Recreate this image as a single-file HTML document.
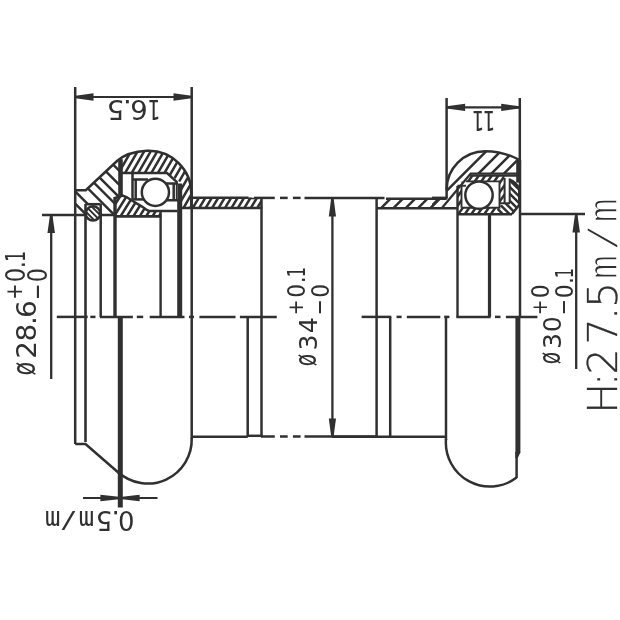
<!DOCTYPE html>
<html lang="en"><head><meta charset="utf-8"><title>Headset drawing</title>
<style>
html,body{margin:0;padding:0;background:#fff;}
body{width:620px;height:620px;overflow:hidden;}
svg{display:block;filter:blur(0.45px)}
text{fill:#303030}
</style></head><body>
<svg width="620" height="620" viewBox="0 0 620 620" stroke="#303030" fill="none" stroke-linecap="butt" stroke-linejoin="miter">
<rect width="620" height="620" fill="#fff" stroke="none"/>
<defs><clipPath id="cbl"><path d="M192 197.6H261V208.1H192Z" clip-rule="nonzero"/></clipPath><clipPath id="cbr"><path d="M377.5 198.7H446.6V208.3H377.5Z" clip-rule="nonzero"/></clipPath><clipPath id="cw"><path d="M75.2 190.2H85.8L117 161L120.3 158.6V196L115 198V215H100.7V204.2H85.5V215H75.2Z" clip-rule="nonzero"/></clipPath><clipPath id="co"><path d="M93 206.2a7.2 7.2 0 1 0 0.01 0Z" clip-rule="nonzero"/></clipPath><clipPath id="cd"><path d="M120.3 172.8V161L117 161C123 155.6 133 151.3 147 150.7A42.7 42.7 0 0 1 191.3 194V207.8H182V183.4L167.3 172.8Z" clip-rule="nonzero"/></clipPath><clipPath id="cc"><path d="M115 198L122.6 195.5L126.5 197L132.3 200.8L142 206.6L146.8 210L149 211H160.4V216H115Z" clip-rule="nonzero"/></clipPath><clipPath id="cdr"><path d="M446.6 198V190A38.5 38.5 0 0 1 485.1 151.2A71.7 71.7 0 0 1 518.6 159.5V173.6H470.7L441.7 208.3H432V198Z" clip-rule="nonzero"/></clipPath><clipPath id="crr"><path d="M469 175.5H504.5V203H499.5V181.5H461.5V207.8H496V214.3H457.4V189.5ZM0 0Z" clip-rule="evenodd"/></clipPath><clipPath id="csl"><path d="M509.5 179.5Q516 181.5 519.5 189V205L512 214.3H494L499 206.5L504 203.3H509.5Z" clip-rule="nonzero"/></clipPath></defs>
<line x1="56.8" y1="316.9" x2="87.7" y2="316.9" stroke-width="2.5" />
<line x1="90.3" y1="316.9" x2="95.5" y2="316.9" stroke-width="2.5" />
<line x1="99.9" y1="316.9" x2="132.9" y2="316.9" stroke-width="2.5" />
<line x1="136.8" y1="316.9" x2="143.2" y2="316.9" stroke-width="2.5" />
<line x1="149.7" y1="316.9" x2="184.5" y2="316.9" stroke-width="2.5" />
<line x1="189" y1="316.9" x2="194" y2="316.9" stroke-width="2.5" />
<line x1="199.4" y1="316.9" x2="235.5" y2="316.9" stroke-width="2.5" />
<line x1="239.9" y1="316.9" x2="276.8" y2="316.9" stroke-width="2.5" />
<line x1="361.6" y1="316.9" x2="391.3" y2="316.9" stroke-width="2.5" />
<line x1="396.5" y1="316.9" x2="401.6" y2="316.9" stroke-width="2.5" />
<line x1="406.8" y1="316.9" x2="440.3" y2="316.9" stroke-width="2.5" />
<line x1="444.2" y1="316.9" x2="449.4" y2="316.9" stroke-width="2.5" />
<line x1="456.3" y1="316.9" x2="490.6" y2="316.9" stroke-width="2.5" />
<line x1="495" y1="316.9" x2="500.5" y2="316.9" stroke-width="2.5" />
<line x1="505.9" y1="316.9" x2="537.4" y2="316.9" stroke-width="2.5" />
<line x1="254" y1="197.9" x2="274.8" y2="197.9" stroke-width="2.5" />
<line x1="280" y1="197.9" x2="287.7" y2="197.9" stroke-width="2.5" />
<line x1="292.9" y1="197.9" x2="300.6" y2="197.9" stroke-width="2.5" />
<line x1="304.5" y1="197.9" x2="384.5" y2="197.9" stroke-width="2.5" />
<line x1="261" y1="436.5" x2="274.8" y2="436.5" stroke-width="2.5" />
<line x1="280" y1="436.5" x2="287.7" y2="436.5" stroke-width="2.5" />
<line x1="292.9" y1="436.5" x2="300.6" y2="436.5" stroke-width="2.5" />
<line x1="304.5" y1="436.5" x2="377" y2="436.5" stroke-width="2.5" />
<line x1="75.2" y1="87" x2="75.2" y2="444" stroke-width="2.5" />
<line x1="191.7" y1="87" x2="191.7" y2="439" stroke-width="2.5" />
<path d="M75.2 444H85.5L120 474" stroke-width="2.5" fill="none" />
<path d="M191.7 438A44 44 0 0 1 118 472" stroke-width="2.5" fill="none" />
<line x1="85.5" y1="204" x2="85.5" y2="442" stroke-width="2.6" />
<line x1="100.7" y1="204" x2="100.7" y2="316.9" stroke-width="2.5" />
<line x1="115" y1="197" x2="115" y2="316.9" stroke-width="3.4" />
<line x1="160.6" y1="211" x2="160.6" y2="316.9" stroke-width="2.4" />
<line x1="179.7" y1="183.4" x2="179.7" y2="316.9" stroke-width="5.0" />
<line x1="120.3" y1="316.9" x2="120.3" y2="507.5" stroke-width="5.0" />
<line x1="261.5" y1="197.7" x2="261.5" y2="436.7" stroke-width="2.5" />
<line x1="247.7" y1="316.9" x2="247.7" y2="436" stroke-width="2.5" />
<line x1="191.7" y1="436.7" x2="247.7" y2="436.7" stroke-width="2.5" />
<line x1="247" y1="435.8" x2="262.5" y2="435.8" stroke-width="2.5" />
<line x1="42" y1="215" x2="116" y2="215" stroke-width="2.5" />
<line x1="376.6" y1="198" x2="376.6" y2="436.7" stroke-width="2.5" />
<line x1="390.2" y1="316.9" x2="390.2" y2="436.7" stroke-width="2.5" />
<line x1="446" y1="316.9" x2="446" y2="440" stroke-width="2.5" />
<line x1="332" y1="436.7" x2="446" y2="436.7" stroke-width="2.5" />
<line x1="457.5" y1="186" x2="457.5" y2="316.9" stroke-width="2.4" />
<line x1="489.5" y1="214" x2="489.5" y2="316.9" stroke-width="3.2" />
<line x1="520" y1="160" x2="520" y2="316.9" stroke-width="2.5" />
<line x1="446.6" y1="98" x2="446.6" y2="198" stroke-width="2.5" />
<line x1="519.8" y1="98" x2="519.8" y2="165" stroke-width="2.5" />
<line x1="517.9" y1="316.9" x2="517.9" y2="453" stroke-width="5.0" />
<path d="M515.4 452.5H520.4L517.8 458H515.4Z" stroke-width="0" fill="#303030" />
<line x1="516.6" y1="452" x2="516.6" y2="478" stroke-width="2.5" />
<path d="M446 439A44 44 0 0 0 516.6 477.5" stroke-width="2.5" fill="none" />
<line x1="520" y1="214" x2="585" y2="214" stroke-width="2.5" />
<line x1="75" y1="97" x2="192" y2="97" stroke-width="2.2" />
<path d="M75.50 95.80L93.50 93.25L93.50 100.75L75.50 98.20Z" fill="#303030" stroke="none"/>
<path d="M191.50 98.20L173.50 100.75L173.50 93.25L191.50 95.80Z" fill="#303030" stroke="none"/>
<line x1="446" y1="107.4" x2="520" y2="107.4" stroke-width="2.1" />
<path d="M446.80 106.20L465.10 103.80L465.10 111.00L446.80 108.60Z" fill="#303030" stroke="none"/>
<path d="M519.50 108.60L501.20 111.00L501.20 103.80L519.50 106.20Z" fill="#303030" stroke="none"/>
<line x1="51.2" y1="215" x2="51.2" y2="379" stroke-width="2.3" />
<path d="M52.40 215.00L54.95 233.00L47.45 233.00L50.00 215.00Z" fill="#303030" stroke="none"/>
<line x1="332.4" y1="198" x2="332.4" y2="436.7" stroke-width="2.3" />
<path d="M333.60 198.30L336.00 216.60L328.80 216.60L331.20 198.30Z" fill="#303030" stroke="none"/>
<path d="M331.20 436.50L328.80 418.50L336.00 418.50L333.60 436.50Z" fill="#303030" stroke="none"/>
<line x1="576.2" y1="214.3" x2="576.2" y2="369" stroke-width="2.3" />
<path d="M577.40 214.50L579.95 232.50L572.45 232.50L575.00 214.50Z" fill="#303030" stroke="none"/>
<line x1="83" y1="498" x2="157.5" y2="498" stroke-width="2.1" />
<path d="M118.80 499.20L100.40 501.30L100.40 494.70L118.80 496.80Z" fill="#303030" stroke="none"/>
<path d="M122.20 496.80L139.60 494.70L139.60 501.30L122.20 499.20Z" fill="#303030" stroke="none"/>
<path d="M192.92 197.00L185.71 209.00M199.37 197.00L192.16 209.00M205.82 197.00L198.61 209.00M212.27 197.00L205.06 209.00M218.72 197.00L211.51 209.00M225.17 197.00L217.96 209.00M231.62 197.00L224.41 209.00M238.07 197.00L230.86 209.00M244.52 197.00L237.31 209.00M250.97 197.00L243.76 209.00M257.42 197.00L250.21 209.00M263.87 197.00L256.66 209.00M270.32 197.00L263.11 209.00" stroke-width="2.5" fill="none" clip-path="url(#cbl)"/>
<path d="M191 197.7H248.6M182 208.1H262.3" stroke-width="2.5" fill="none" />
<path d="M248 198.5H254.5" stroke-width="1.6" fill="none" />
<path d="M370.00 219.20L470.00 119.20M370.00 231.53L470.00 131.53M370.00 243.86L470.00 143.86M370.00 256.19L470.00 156.19M370.00 268.52L470.00 168.52" stroke-width="2.5" fill="none" clip-path="url(#cbr)"/>
<path d="M386 198.8H446.6M377 208.3H457.5" stroke-width="2.5" fill="none" />
<path d="M432 197.9H447.6" stroke-width="2.6" fill="none" />
<path d="M75.2 190.2H85.8L117 161C123 155.6 133 151.3 147 150.7A42.7 42.7 0 0 1 191.3 194V208" stroke-width="2.5" fill="none" />
<path d="M70.00 198.40L125.00 253.40M70.00 186.30L125.00 241.30M70.00 170.60L125.00 225.60M70.00 158.80L125.00 213.80M70.00 148.00L125.00 203.00M70.00 135.50L125.00 190.50M70.00 121.40L125.00 176.40" stroke-width="2.5" fill="none" clip-path="url(#cw)"/>
<path d="M85.5 204.2H100.7" stroke-width="2.5" fill="none" />
<circle cx="93" cy="213.4" r="7.2" stroke-width="2.5" fill="#fff"/>
<path d="M80.00 211.40L105.00 236.40M80.00 205.90L105.00 230.90M80.00 200.40L105.00 225.40M80.00 194.90L105.00 219.90M80.00 189.40L105.00 214.40" stroke-width="1.9" fill="none" clip-path="url(#co)"/>
<line x1="120.5" y1="159.2" x2="120.5" y2="195.5" stroke-width="4.6" />
<path d="M119.91 148.00L84.69 209.00M126.46 148.00L91.24 209.00M133.01 148.00L97.79 209.00M139.56 148.00L104.34 209.00M146.11 148.00L110.89 209.00M152.66 148.00L117.44 209.00M159.21 148.00L123.99 209.00M165.76 148.00L130.54 209.00M172.31 148.00L137.09 209.00M178.86 148.00L143.64 209.00M185.41 148.00L150.19 209.00M191.96 148.00L156.74 209.00M198.51 148.00L163.29 209.00M205.06 148.00L169.84 209.00M211.61 148.00L176.39 209.00M218.16 148.00L182.94 209.00M224.71 148.00L189.49 209.00" stroke-width="2.5" fill="none" clip-path="url(#cd)"/>
<path d="M122 173.1H167L177.5 182.6" stroke-width="2.5" fill="none" />
<path d="M132.5 173V199.4M132.5 179.5H148" stroke-width="2.5" fill="none" />
<path d="M135.7 179.5V199.4" stroke-width="2.5" fill="none" />
<path d="M132.5 199.4H146" stroke-width="2.5" fill="none" />
<path d="M166 183.4H178M173.7 183.4V200.2M166 200.2H178" stroke-width="2.5" fill="none" />
<line x1="176.4" y1="183.4" x2="176.4" y2="200.2" stroke-width="1.2" />
<circle cx="155.4" cy="192.3" r="13.6" stroke-width="2.5" fill="#fff"/>
<path d="M121.65 194.00L107.28 217.00M128.05 194.00L113.68 217.00M134.45 194.00L120.08 217.00M140.85 194.00L126.48 217.00M147.25 194.00L132.88 217.00M153.65 194.00L139.28 217.00M160.05 194.00L145.68 217.00M166.45 194.00L152.08 217.00M172.85 194.00L158.48 217.00M179.25 194.00L164.88 217.00" stroke-width="2.5" fill="none" clip-path="url(#cc)"/>
<path d="M115 198L122.6 195.5L126.5 197L132.3 200.8L142 206.6L146.8 210L149 211H177.5" stroke-width="2.5" fill="none" />
<path d="M114 216.3H161.4" stroke-width="2.8" fill="none" />
<path d="M446.6 190A38.5 38.5 0 0 1 485.1 151.2A71.7 71.7 0 0 1 518.6 159.5" stroke-width="2.5" fill="none" />
<line x1="518.3" y1="159.3" x2="518.3" y2="182.6" stroke-width="4.2" />
<path d="M430.00 207.50L520.00 117.50M430.00 222.00L520.00 132.00M430.00 235.00L520.00 145.00M430.00 247.60L520.00 157.60" stroke-width="2.5" fill="none" clip-path="url(#cdr)"/>
<path d="M441.7 208.3L470.7 173.6H517" stroke-width="2.3" fill="none" />
<path d="M453.25 175.00L425.24 215.00M459.75 175.00L431.74 215.00M466.25 175.00L438.24 215.00M472.75 175.00L444.74 215.00M479.25 175.00L451.24 215.00M485.75 175.00L457.74 215.00M492.25 175.00L464.24 215.00M498.75 175.00L470.74 215.00M505.25 175.00L477.24 215.00M511.75 175.00L483.74 215.00M518.25 175.00L490.24 215.00M524.75 175.00L496.74 215.00" stroke-width="2.5" fill="none" clip-path="url(#crr)"/>
<path d="M470 175.6H517" stroke-width="2.2" fill="none" />
<path d="M461.5 207.8V185.5M457.4 185.8H466M466 181.4H499.5V207.8H461.5" stroke-width="1.9" fill="none" />
<path d="M457.4 214.3H512" stroke-width="2.4" fill="none" />
<path d="M504.6 178V203.3M509.7 178.5V203.3M499.5 203.3H510" stroke-width="2" fill="none" />
<path d="M490.00 160.50L522.00 192.50M490.00 167.30L522.00 199.30M490.00 174.10L522.00 206.10M490.00 180.90L522.00 212.90M490.00 187.70L522.00 219.70M490.00 194.50L522.00 226.50M490.00 201.30L522.00 233.30" stroke-width="2.5" fill="none" clip-path="url(#csl)"/>
<path d="M509.5 179.8Q516 182 519.3 189V204.8L512 214" stroke-width="2.5" fill="none" />
<circle cx="479" cy="195.1" r="13.7" stroke-width="2.5" fill="#fff"/>
<text transform="translate(0,100.3) rotate(180) scale(1.06,1)" x="-151.32 -139.36 -124.23 -117.23" y="0" font-family="'DejaVu Sans','Liberation Sans',sans-serif" font-size="26.06" stroke="none"><tspan textLength="12.27" lengthAdjust="spacingAndGlyphs">1</tspan>6.5</text>
<text transform="translate(0,111.1) rotate(180)" x="-495.3 -484.15" y="0" font-family="'DejaVu Sans','Liberation Sans',sans-serif" font-size="26.61" stroke="none"><tspan textLength="12.53" lengthAdjust="spacingAndGlyphs">1</tspan><tspan textLength="12.53" lengthAdjust="spacingAndGlyphs">1</tspan></text>
<text transform="translate(0,511.2) rotate(180)" x="-134.43 -119.82 -112.33 -94.22 -76.85 -60.48" y="0" font-family="'DejaVu Sans','Liberation Sans',sans-serif" font-size="25.93" stroke="none">0.5<tspan font-family="'DejaVu Sans Mono','Liberation Mono',monospace" font-weight="400">m</tspan><tspan font-family="'DejaVu Sans Mono','Liberation Mono',monospace" font-weight="400" font-size="23.00" textLength="17.31" lengthAdjust="spacingAndGlyphs" dy="-2.12">/</tspan><tspan font-family="'DejaVu Sans Mono','Liberation Mono',monospace" font-weight="400" dy="2.12">m</tspan></text>
<text transform="translate(36,0) rotate(-90) scale(1.05,1)" x="-357.66 -341.7 -325.21 -309.56 -302.93" y="0" font-family="'DejaVu Sans','Liberation Sans',sans-serif" font-size="26.61" stroke="none"><tspan font-size="31.40" textLength="13.06" lengthAdjust="spacingAndGlyphs" dy="-1.25">ø</tspan><tspan dy="1.25">2</tspan>8.6</text>
<text transform="translate(24.5,0) rotate(-90) scale(0.87,1)" x="-344.56 -324.48 -308.28 -300.97" y="0" font-family="'DejaVu Sans','Liberation Sans',sans-serif" font-size="26.06" stroke="none"><tspan font-size="22.41" dy="-2.57">+</tspan><tspan dy="2.57">0</tspan>.<tspan textLength="12.27" lengthAdjust="spacingAndGlyphs">1</tspan></text>
<text transform="translate(46.9,0) rotate(-90) scale(0.87,1)" x="-344.99 -324.35" y="0" font-family="'DejaVu Sans','Liberation Sans',sans-serif" font-size="25.65" stroke="none"><tspan textLength="19.44" lengthAdjust="spacingAndGlyphs" dy="-2.00">-</tspan><tspan dy="2.00">0</tspan></text>
<text transform="translate(316.9,0) rotate(-90)" x="-366.18 -350.5 -333.35" y="0" font-family="'DejaVu Sans','Liberation Sans',sans-serif" font-size="25.24" stroke="none"><tspan font-size="29.78" textLength="12.39" lengthAdjust="spacingAndGlyphs" dy="-1.18">ø</tspan><tspan dy="1.18">3</tspan>4</text>
<text transform="translate(305.3,0) rotate(-90) scale(0.87,1)" x="-362.37 -342.22 -325.59 -318.67" y="0" font-family="'DejaVu Sans','Liberation Sans',sans-serif" font-size="25.10" stroke="none"><tspan font-size="21.59" dy="-2.47">+</tspan><tspan dy="2.47">0</tspan>.<tspan textLength="11.82" lengthAdjust="spacingAndGlyphs">1</tspan></text>
<text transform="translate(328.5,0) rotate(-90) scale(0.87,1)" x="-362.66 -342.22" y="0" font-family="'DejaVu Sans','Liberation Sans',sans-serif" font-size="25.10" stroke="none"><tspan textLength="19.02" lengthAdjust="spacingAndGlyphs" dy="-1.96">-</tspan><tspan dy="1.96">0</tspan></text>
<text transform="translate(561,0) rotate(-90)" x="-364.23 -349.05 -332.21" y="0" font-family="'DejaVu Sans','Liberation Sans',sans-serif" font-size="25.24" stroke="none"><tspan font-size="29.78" textLength="12.39" lengthAdjust="spacingAndGlyphs" dy="-1.18">ø</tspan><tspan dy="1.18">3</tspan>0</text>
<text transform="translate(549.4,0) rotate(-90) scale(0.87,1)" x="-362.42 -342.84" y="0" font-family="'DejaVu Sans','Liberation Sans',sans-serif" font-size="25.24" stroke="none"><tspan font-size="21.71" dy="-2.49">+</tspan><tspan dy="2.49">0</tspan></text>
<text transform="translate(572.6,0) rotate(-90) scale(0.87,1)" x="-362.71 -342.84 -326.42 -319.8" y="0" font-family="'DejaVu Sans','Liberation Sans',sans-serif" font-size="25.24" stroke="none"><tspan textLength="19.13" lengthAdjust="spacingAndGlyphs" dy="-1.97">-</tspan><tspan dy="1.97">0</tspan>.<tspan textLength="11.88" lengthAdjust="spacingAndGlyphs">1</tspan></text>
<text transform="translate(617.4,0) rotate(-90)" x="-413.68 -386.24 -374.45 -344.46 -319.73 -307.91 -279.45 -251.02 -222.85" y="0" font-family="'DejaVu Sans','Liberation Sans',sans-serif" font-size="41.15" font-weight="200" stroke="#303030" stroke-width="0.3">H:27.5<tspan font-family="'DejaVu Sans Mono','Liberation Mono',monospace" font-weight="400" stroke="#fff" stroke-width="1.5">m</tspan><tspan font-family="'DejaVu Sans Mono','Liberation Mono',monospace" font-weight="400" stroke="#fff" stroke-width="1.5" font-size="36.50" textLength="27.47" lengthAdjust="spacingAndGlyphs" dy="-3.36">/</tspan><tspan font-family="'DejaVu Sans Mono','Liberation Mono',monospace" font-weight="400" stroke="#fff" stroke-width="1.5" dy="3.36">m</tspan></text>
</svg>
</body></html>
